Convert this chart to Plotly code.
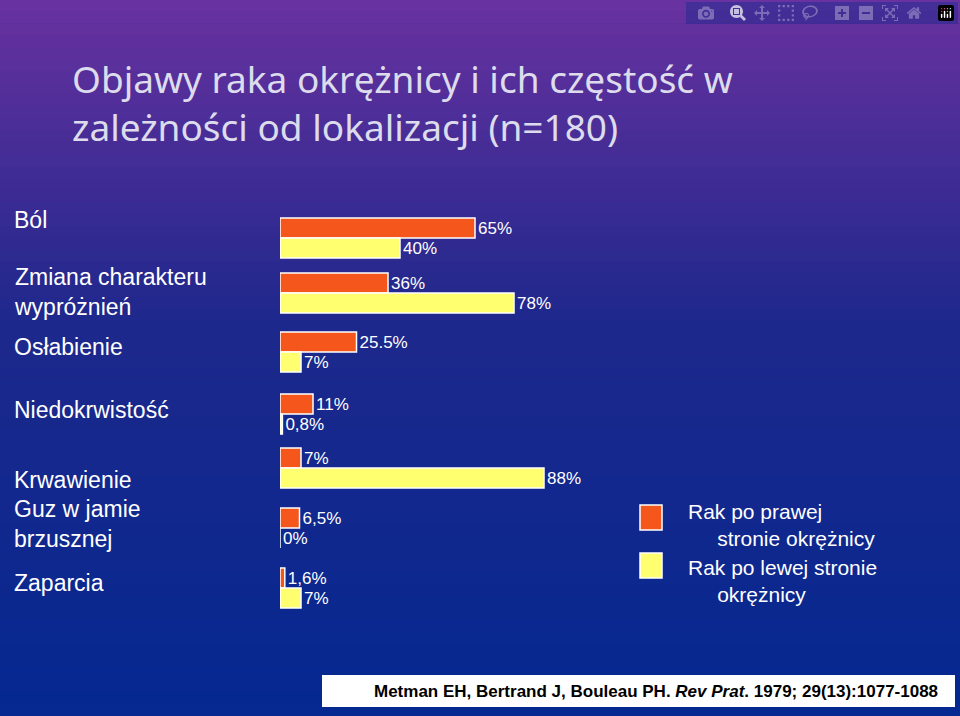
import plotly.graph_objects as go

categories = ["Ból", "Zmiana charakteru<br>wypróżnień", "Osłabienie", "Niedokrwistość",
              "Krwawienie", "Guz w jamie<br>brzusznej", "Zaparcia"]
right_vals = [65, 36, 25.5, 11, 7, 6.5, 1.6]
right_text = ["65%", "36%", "25.5%", "11%", "7%", "6,5%", "1,6%"]
left_vals = [40, 78, 7, 0.8, 88, 0, 7]
left_text = ["40%", "78%", "7%", "0,8%", "88%", "0%", "7%"]

group_y = [238, 293, 352, 414, 468, 528, 588]
label_y = [220, 292, 347, 410, 480, 524, 583]

fig = go.Figure()
fig.add_bar(y=[g - 10 for g in group_y], x=right_vals, orientation="h", width=20,
            marker=dict(color="#f4561c", line=dict(color="white", width=1.5)),
            text=right_text, textposition="outside", cliponaxis=False,
            textfont=dict(color="white", size=17, family="Liberation Sans"), name="prawa")
fig.add_bar(y=[g + 10 for g in group_y], x=left_vals, orientation="h", width=20,
            marker=dict(color="#ffff70", line=dict(color="white", width=1.5)),
            text=left_text, textposition="outside", cliponaxis=False,
            textfont=dict(color="white", size=17, family="Liberation Sans"), name="lewa")

shapes = []
n = 60
top = (104, 50, 160); mid = (30, 40, 140); bot = (5, 40, 145)
for i in range(n):
    t = i / (n - 1)
    if t < 0.45:
        u = t / 0.45
        c = tuple(int(top[k] + (mid[k] - top[k]) * u) for k in range(3))
    else:
        u = (t - 0.45) / 0.55
        c = tuple(int(mid[k] + (bot[k] - mid[k]) * u) for k in range(3))
    shapes.append(dict(type="rect", xref="paper", yref="paper", x0=0, x1=1,
                       y0=1 - (i + 1) / n, y1=1 - i / n + 0.001, line=dict(width=0),
                       fillcolor="rgb(%d,%d,%d)" % c, layer="below"))
shapes.append(dict(type="rect", xref="paper", yref="y", x0=640/960, x1=662/960, y0=505, y1=530,
                   fillcolor="#f4561c", line=dict(color="white", width=1.5)))
shapes.append(dict(type="rect", xref="paper", yref="y", x0=640/960, x1=662/960, y0=553, y1=578,
                   fillcolor="#ffff70", line=dict(color="white", width=1.5)))
shapes.append(dict(type="rect", xref="paper", yref="y", x0=322/960, x1=955/960, y0=675, y1=707,
                   fillcolor="white", line=dict(width=0)))

ann = [dict(text="Objawy raka okrężnicy i ich częstość w<br>zależności od lokalizacji (n=180)",
            xref="paper", yref="y", x=70/960, y=102, xanchor="left", showarrow=False, align="left",
            font=dict(size=37, color="#dcdcec", family="Noto Sans"))]
for c, yy in zip(categories, label_y):
    ann.append(dict(text=c, xref="paper", yref="y", x=12/960, y=yy, xanchor="left",
                    showarrow=False, align="left",
                    font=dict(size=23, color="white", family="Liberation Sans")))
ann.append(dict(text="Rak po prawej<br>     stronie okrężnicy", xref="paper", yref="y",
                x=686/960, y=525, xanchor="left", showarrow=False, align="left",
                font=dict(size=21, color="white", family="Liberation Sans")))
ann.append(dict(text="Rak po lewej stronie<br>     okrężnicy", xref="paper", yref="y",
                x=686/960, y=581, xanchor="left", showarrow=False, align="left",
                font=dict(size=21, color="white", family="Liberation Sans")))
ann.append(dict(text="<b>Metman EH, Bertrand J, Bouleau PH. <i>Rev Prat</i>. 1979; 29(13):1077-1088</b>",
                xref="paper", yref="y", x=940/960, y=691, xanchor="right", showarrow=False,
                font=dict(size=17, color="black", family="Liberation Sans")))

fig.update_layout(
    width=960, height=716, margin=dict(l=0, r=0, t=0, b=0),
    paper_bgcolor="#1f2a8f", plot_bgcolor="rgba(0,0,0,0)",
    showlegend=False, barmode="overlay", shapes=shapes, annotations=ann,
    xaxis=dict(domain=[280/960, 1], range=[0, 680/3], visible=False),
    yaxis=dict(range=[716, 0], visible=False),
)
fig.write_html("out.html",
               post_script="document.body.style.margin='0';document.body.style.padding='0';document.body.style.overflow='hidden';")
